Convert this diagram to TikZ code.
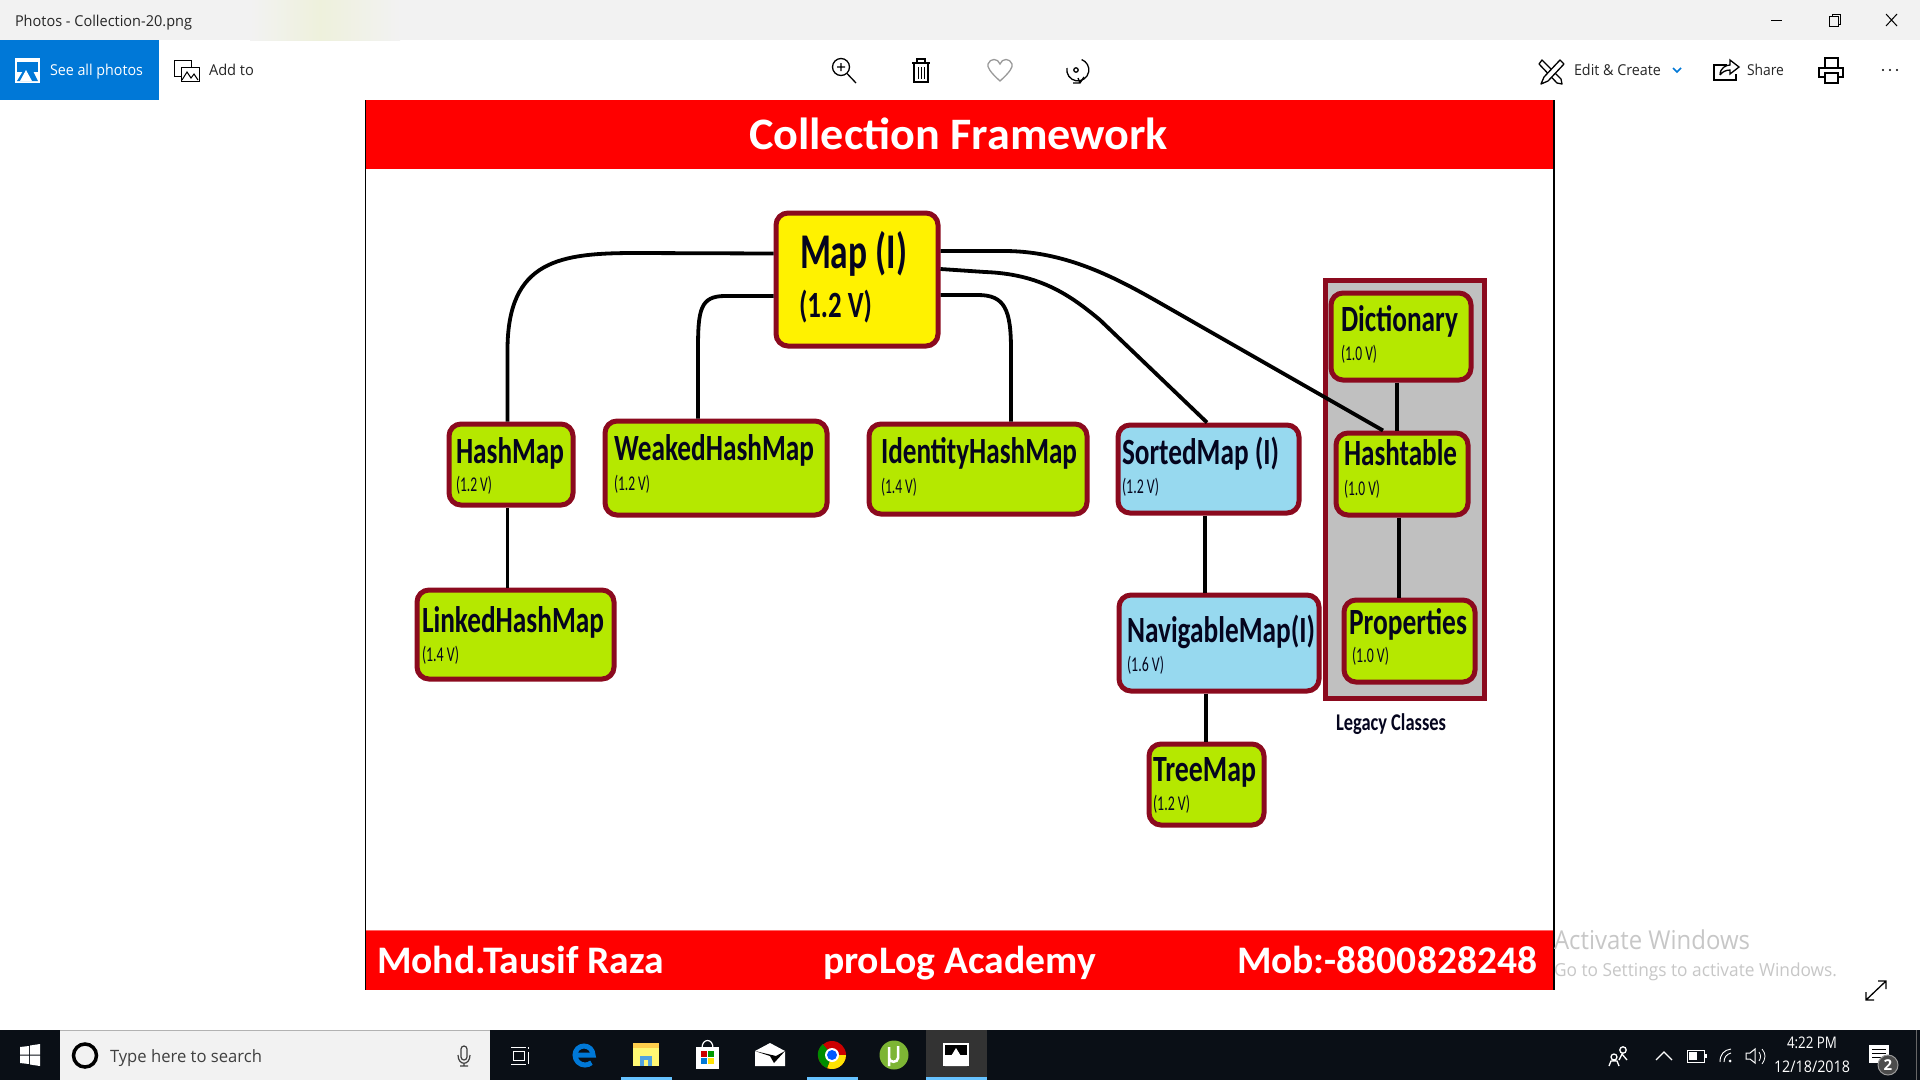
\documentclass[tikz,border=0pt]{standalone}
\usepackage{fontspec}
\usepackage{graphicx}
\setmainfont{Carlito}
\newfontfamily\uifont{Open Sans}
\definecolor{slidered}{HTML}{FF0000}
\definecolor{limefill}{HTML}{B5E800}
\definecolor{skyfill}{HTML}{97D9EF}
\definecolor{yellowfill}{HTML}{FFF200}
\definecolor{edgered}{HTML}{8B0A1E}
\definecolor{legacygray}{HTML}{C0C0C0}
\definecolor{titlebar}{HTML}{F2F2F2}
\definecolor{tint}{HTML}{EEF1DC}
\definecolor{uiblue}{HTML}{0078D7}
\definecolor{taskbar}{HTML}{0A0F16}
\definecolor{inktext}{HTML}{05051E}
\definecolor{utgreen}{HTML}{7DB534}
\newcommand\fitw[2]{\resizebox{#1pt}{\height}{#2}}
\newcommand\bxn[6]{%
  \pgfmathsetmacro\bw{#4-#2-4}\pgfmathsetmacro\bh{#5-#3-4}%
  \node[rbox,#6,minimum width=\bw pt,minimum height=\bh pt] (#1) at ({(#2+#4)/2},{(#3+#5)/2}) {};}
\newcommand\ttl[6][37]{\node[lab,font=\bfseries\fontsize{#1}{#1}\selectfont,text=inktext,yshift=-1pt] (#2) at (#3,#4) {\fitw{#5}{#6}};}
\newcommand\sbt[5]{\node[lab,font=\fontsize{21}{21}\selectfont,text=inktext,yshift=-1pt] (#1) at (#2,#3) {\fitw{#4}{#5}};}
\newcommand\ui[7][]{\node[lab,font=\uifont\fontsize{#6}{#6}\selectfont,text=#7] (#2) at (#3,#4) {\fitw{#5}{#1}};}
\tikzset{
  lab/.style={anchor=base west,inner sep=0pt,outer sep=0pt},
  rbox/.style={draw=edgered,line width=5pt,rounded corners=12pt,inner sep=0pt},
  lime/.style={fill=limefill},
  sky/.style={fill=skyfill},
  conn/.style={draw=black,line width=3.8pt},
  icon/.style={draw=black,line width=1.3pt,fill=none},
  wicon/.style={draw=white,line width=1.3pt,fill=none}
}
\begin{document}
\begin{tikzpicture}[x=1pt,y=-1pt]
\useasboundingbox (0,0) rectangle (1920,1080);
\fill[white] (0,0) rectangle (1920,1080);
% title bar
\fill[titlebar] (0,0) rectangle (1920,40);
\shade[left color=titlebar,right color=tint] (250,0) rectangle (320,40);
\shade[left color=tint,right color=titlebar] (320,0) rectangle (400,40);
\ui[Photos - Collection-20.png]{wintitle}{15}{26}{177}{15}{black!85}
\draw[black,line width=1pt] (1771,20) -- (1782,20);
\draw[black,line width=1pt] (1829,16) rectangle (1838,26);
\draw[black,line width=1pt] (1832,16) -- (1832,14) -- (1840,14) -- (1840,24) -- (1838,24);
\draw[black,line width=1pt] (1886,14) -- (1897,26) (1897,14) -- (1886,26);
% toolbar
\fill[uiblue] (0,40) rectangle (159,100);
\fill[white] (15,58) rectangle (40,83);
\fill[uiblue] (17,62) rectangle (38,72);
\fill[uiblue] (17,81) -- (26,66) -- (29,72) -- (32,69) -- (38,81) -- cycle;
\fill[white] (20,81) -- (26,70) -- (32,81) -- cycle;
\ui[See all photos]{seeall}{50}{75}{93}{15}{white}
\draw[icon,line width=1pt] (174,60) rectangle (191,76);
\draw[icon,line width=1pt,fill=white] (181,67) rectangle (199,81);
\draw[icon,line width=1pt] (182,80) -- (187,72) -- (191,78) -- (194,74) -- (198,80);
\ui[Add to]{addto}{209}{75}{45}{15}{black!85}
\draw[icon] (841,67) circle (8.5);
\draw[icon] (837,67) -- (845,67) (841,63) -- (841,71) (847,73.5) -- (856,83);
\draw[icon] (912,63) -- (930,63) (917,63) -- (917,59) -- (925,59) -- (925,63);
\draw[icon] (914,63) -- (914,82) -- (928,82) -- (928,63);
\draw[black,line width=.8pt] (918,67) -- (918,79) (921,67) -- (921,79) (924,67) -- (924,79);
\draw[draw=black!40,line width=1.3pt] (1000,81) .. controls (990,72) and (987,67) .. (988,64) .. controls (990,58) and (998,58) .. (1000,64) .. controls (1002,58) and (1010,58) .. (1012,64) .. controls (1013,67) and (1010,72) .. (1000,81) -- cycle;
\draw[icon] (1067,68) arc[start angle=190,end angle=-70,radius=11];
\draw[icon] (1076,70) circle (2.2);
\draw[icon] (1078,78) -- (1080,83) (1073,83) -- (1080,83) -- (1084,77);
% edit icon: crossed pencil and brush
\draw[icon,line join=round] (1539,64) -- (1542,60) -- (1561,79) -- (1562,84) -- (1557,83) -- cycle;
\draw[icon,line join=round,fill=white] (1560,60) -- (1564,64) -- (1548,81) -- (1541,84) -- (1544,77) -- cycle;
\ui[Edit \& Create]{editcreate}{1574}{75}{87}{15}{black!85}
\draw[draw=uiblue,line width=1.5pt] (1673,68) -- (1677,72) -- (1681,68);
\draw[icon] (1727,65) -- (1714,65) -- (1714,80) -- (1736,80) -- (1736,74);
\draw[icon] (1720,75) .. controls (1720,68) and (1726,65) .. (1730,65) -- (1730,60) -- (1739,67) -- (1730,74) -- (1730,70) .. controls (1726,70) and (1722,72) .. (1720,75);
\ui[Share]{share}{1747}{75}{37}{15}{black!85}
\draw[icon] (1825,58) rectangle (1838,68);
\draw[icon] (1819,68) rectangle (1843,77);
\draw[icon,fill=white] (1825,73) rectangle (1838,83);
\fill (1883,70) circle (1.2) (1890,70) circle (1.2) (1897,70) circle (1.2);
% slide
\fill[slidered] (365,100) rectangle (1554,169);
\fill[slidered] (365,930) rectangle (1554,990);
\draw[slidered!60,line width=1pt] (366,930.5) -- (1553,930.5);
\draw[black,line width=1.5pt] (365.5,100) -- (365.5,990);
\draw[black,line width=1.5pt] (1554,100) -- (1554,990);
\node[lab,font=\bfseries\fontsize{45}{45}\selectfont,text=white] (title) at (749,149) {\fitw{419}{Collection Framework}};
\node[lab,font=\bfseries\fontsize{39}{39}\selectfont,text=white] (author) at (377,973) {\fitw{287}{Mohd.Tausif Raza}};
\node[lab,font=\bfseries\fontsize{39}{39}\selectfont,text=white] (academy) at (823,973) {\fitw{273}{proLog Academy}};
\node[lab,font=\bfseries\fontsize{39}{39}\selectfont,text=white] (mobile) at (1237,973) {\fitw{300}{Mob:-8800828248}};
% legacy panel
\bxn{legacy}{1323}{278}{1486}{700}{fill=legacygray,rounded corners=0pt}
% boxes
\bxn{map}{774}{211}{940}{348}{fill=yellowfill}
\bxn{hm}{447}{422}{575}{507}{lime}
\bxn{weak}{603}{419}{829}{517}{lime}
\bxn{ident}{867}{422}{1089}{516}{lime}
\bxn{sorted}{1116}{423}{1301}{515}{sky}
\bxn{linked}{415}{588}{616}{681}{lime}
\bxn{navi}{1117}{593}{1321}{693}{sky}
\bxn{tree}{1147}{742}{1266}{827}{lime}
\bxn{dict}{1329}{291}{1473}{382}{lime}
\bxn{hasht}{1334}{431}{1470}{517}{lime}
\bxn{props}{1342}{598}{1477}{684}{lime}
% connectors
\draw[conn] ([yshift=26pt]map.west) -- (636,253) .. controls (560,253) and (507.5,260) .. (507.5,350) -- ([xshift=-3.5pt]hm.north);
\draw[conn] ([yshift=-16.5pt]map.west) -- (725,296) .. controls (700,296) and (698,310) .. (698,350) -- ([xshift=-18pt]weak.north);
\draw[conn] ([yshift=-15.5pt]map.east) -- (978,295) .. controls (1005,295) and (1011,310) .. (1011,350) -- ([xshift=33pt]ident.north);
\draw[conn] ([yshift=28.5pt]map.east) -- (1007,251) .. controls (1070,252) and (1120,280) .. (1167,307) -- ([xshift=-19pt]hasht.north);
\draw[conn] ([yshift=10.5pt]map.east) -- (985,272) .. controls (1040,274) and (1070,295) .. (1100,320) -- ([xshift=-1.5pt]sorted.north);
\draw[conn] ([xshift=-3.5pt]hm.south) -- ([xshift=-8pt]linked.north);
\draw[conn] ([xshift=-3.5pt]sorted.south) -- ([xshift=-14pt]navi.north);
\draw[conn] ([xshift=-13pt]navi.south) -- ([xshift=-0.5pt]tree.north);
\draw[conn] ([xshift=-4pt]dict.south) -- ([xshift=-5pt]hasht.north);
\draw[conn] ([xshift=-3pt]hasht.south) -- ([xshift=-10.5pt]props.north);
% labels
\ttl[50]{mapt}{800}{267}{107}{Map (I)}
\node[lab,font=\bfseries\fontsize{37}{37}\selectfont,text=inktext,yshift=-1pt] (mapv) at (799,316) {\fitw{73}{(1.2 V)}};
\ttl{hmt}{456}{462}{108}{HashMap}
\sbt{hmv}{456}{490}{36}{(1.2 V)}
\ttl{weakt}{614}{459}{200}{WeakedHashMap}
\sbt{weakv}{614}{489}{36}{(1.2 V)}
\ttl{identt}{881}{462}{196}{IdentityHashMap}
\sbt{identv}{881}{492}{36}{(1.4 V)}
\ttl{sortedt}{1122}{463}{157}{SortedMap (I)}
\sbt{sortedv}{1122}{492}{37}{(1.2 V)}
\ttl{linkedt}{422}{631}{182}{LinkedHashMap}
\sbt{linkedv}{422}{660}{37}{(1.4 V)}
\ttl{navit}{1127}{641}{188}{NavigableMap(I)}
\sbt{naviv}{1127}{670}{37}{(1.6 V)}
\ttl{treet}{1153}{780}{103}{TreeMap}
\sbt{treev}{1153}{809}{37}{(1.2 V)}
\ttl{dictt}{1341}{330}{117}{Dictionary}
\sbt{dictv}{1341}{359}{36}{(1.0 V)}
\ttl{hashtt}{1344}{464}{113}{Hashtable}
\sbt{hashtv}{1344}{494}{36}{(1.0 V)}
\ttl{propst}{1349}{633}{118}{Properties}
\sbt{propsv}{1352}{661}{37}{(1.0 V)}
\node[lab,font=\bfseries\fontsize{24}{24}\selectfont,text=inktext] (legacyt) at (1336,730) {\fitw{110}{Legacy Classes}};
% watermark
\ui[Activate Windows]{act}{1554}{949}{196}{26}{black!22}
\ui[Go to Settings to activate Windows.]{acts}{1554}{976}{283}{18}{black!22}
\draw[icon] (1866,1000) -- (1886,981) (1878,981) -- (1886,981) -- (1886,989) (1866,992) -- (1866,1000) -- (1874,1000);
% taskbar
\fill[taskbar] (0,1030) rectangle (1920,1080);
\fill[titlebar] (60,1030) rectangle (490,1080);
\draw[black!30,line width=1pt] (60,1030.5) -- (490,1030.5);
\fill[white] (20,1047) -- (29,1046) -- (29,1054.5) -- (20,1054.5) -- cycle (30,1045.5) -- (40,1044) -- (40,1054.5) -- (30,1054.5) -- cycle (20,1055.5) -- (29,1055.5) -- (29,1064) -- (20,1063) -- cycle (30,1055.5) -- (40,1055.5) -- (40,1066) -- (30,1064.5) -- cycle;
\draw[draw=black,line width=3.5pt] (85,1055.5) circle (11.5);
\ui[Type here to search]{search}{110}{1062}{152}{17}{black!75}
\draw[draw=black!75,line width=1.2pt,rounded corners=3pt] (461,1046) rectangle (467,1060);
\draw[draw=black!75,line width=1.2pt] (458,1055) .. controls (458,1066) and (470,1066) .. (470,1055) (464,1063) -- (464,1066) (460,1066) -- (468,1066);
\draw[wicon,line width=1pt] (511,1047) -- (526,1047) (513,1051) rectangle (524,1060) (511,1064) -- (526,1064) (528,1047) -- (528,1049) (528,1052) -- (528,1064);
% edge icon
\draw[draw=uiblue,line width=5pt] (575,1055) -- (593,1055) arc[start angle=0,end angle=-180,radius=9] arc[start angle=180,end angle=50,radius=10];
\fill[yellowfill!50!orange!70!white] (633,1043) rectangle (659,1066);
\fill[yellow!55!white] (633,1048) rectangle (659,1066);
\fill[cyan!70!blue!70] (640,1056) rectangle (652,1066);
\fill[yellow!55!white] (644,1060) rectangle (648,1066);
\fill[white] (696,1047) rectangle (719,1069);
\draw[draw=white,line width=1.2pt] (702,1048) .. controls (702,1038) and (713,1038) .. (713,1048);
\fill[red!80!black] (701,1051) rectangle (707,1057);
\fill[green!60!black] (708,1051) rectangle (714,1057);
\fill[uiblue] (701,1058) rectangle (707,1064);
\fill[yellow!85!orange] (708,1058) rectangle (714,1064);
\fill[white] (755,1051) -- (770,1043) -- (785,1051) -- (785,1066) -- (755,1066) -- cycle;
\fill[black] (755,1051) -- (776,1056) -- (785,1051) -- (774,1063) -- (770,1056) -- cycle;
\fill[red!80!black] (832,1055) circle (14);
\fill[yellow!85!orange] (832,1055) -- (846,1055) arc[start angle=0,end angle=110,radius=14] -- cycle;
\fill[green!55!black] (832,1055) -- (827,1068) arc[start angle=110,end angle=230,radius=14] -- cycle;
\fill[white] (832,1055) circle (7);
\fill[blue!65!cyan] (832,1055) circle (5);
\fill[utgreen] (894,1055) circle (14.5);
\draw[draw=white,line width=2.5pt] (889,1047) -- (889,1066) (889,1058) .. controls (889,1063) and (898,1063) .. (898,1058) -- (898,1046);
\fill[white!20!black] (926,1030) rectangle (987,1080);
\fill[white] (943,1043) rectangle (969,1066);
\fill[black] (945,1045) rectangle (967,1055);
\fill[white] (945,1066) -- (956,1048) -- (967,1066) -- cycle;
\fill[blue!40!cyan!60!white] (621,1077) rectangle (672,1080);
\fill[blue!40!cyan!60!white] (807,1077) rectangle (858,1080);
\fill[blue!40!cyan!60!white] (926,1077) rectangle (987,1080);
% tray
\draw[wicon] (1623,1050) circle (3.2) (1614,1057) circle (3) (1609,1066) -- (1611,1061) -- (1617,1061) -- (1619,1066) (1619,1060) -- (1622,1054) -- (1627,1060);
\draw[wicon] (1656,1060) -- (1664,1052) -- (1672,1060);
\draw[wicon,line width=1pt] (1687,1050) rectangle (1704,1062);
\fill[white] (1689,1052) rectangle (1697,1060);
\fill[white] (1705,1054) rectangle (1706.5,1058);
\draw[wicon,line width=.9pt] (1720,1062) .. controls (1720,1054) and (1724,1050) .. (1731,1049) (1724,1062) .. controls (1724,1057) and (1727,1054) .. (1731,1053);
\fill[white] (1730,1061) circle (1.5);
\draw[wicon,line width=1pt] (1746,1053) -- (1750,1053) -- (1755,1049) -- (1755,1063) -- (1750,1059) -- (1746,1059) -- cycle;
\draw[wicon,line width=.8pt,draw=white!70] (1759,1052) .. controls (1761,1055) and (1761,1058) .. (1759,1061) (1762,1049) .. controls (1766,1054) and (1766,1058) .. (1762,1064);
\ui[4:22 PM]{clock}{1787}{1048}{50}{16}{white}
\ui[12/18/2018]{cdate}{1774}{1072}{76}{16}{white}
\fill[white] (1869,1045) rectangle (1889,1063);
\draw[draw=black,line width=1pt] (1872,1049) -- (1886,1049) (1872,1053) -- (1886,1053) (1872,1057) -- (1882,1057);
\node[circle,fill=black!70,draw=black!40,line width=1pt,minimum size=20pt,inner sep=0pt,text=white,font=\uifont\bfseries\fontsize{15}{15}\selectfont] (badge) at (1888,1065) {2};
\draw[draw=white!40!black,line width=1pt] (1916,1030) -- (1916,1080);
\end{tikzpicture}
\end{document}
